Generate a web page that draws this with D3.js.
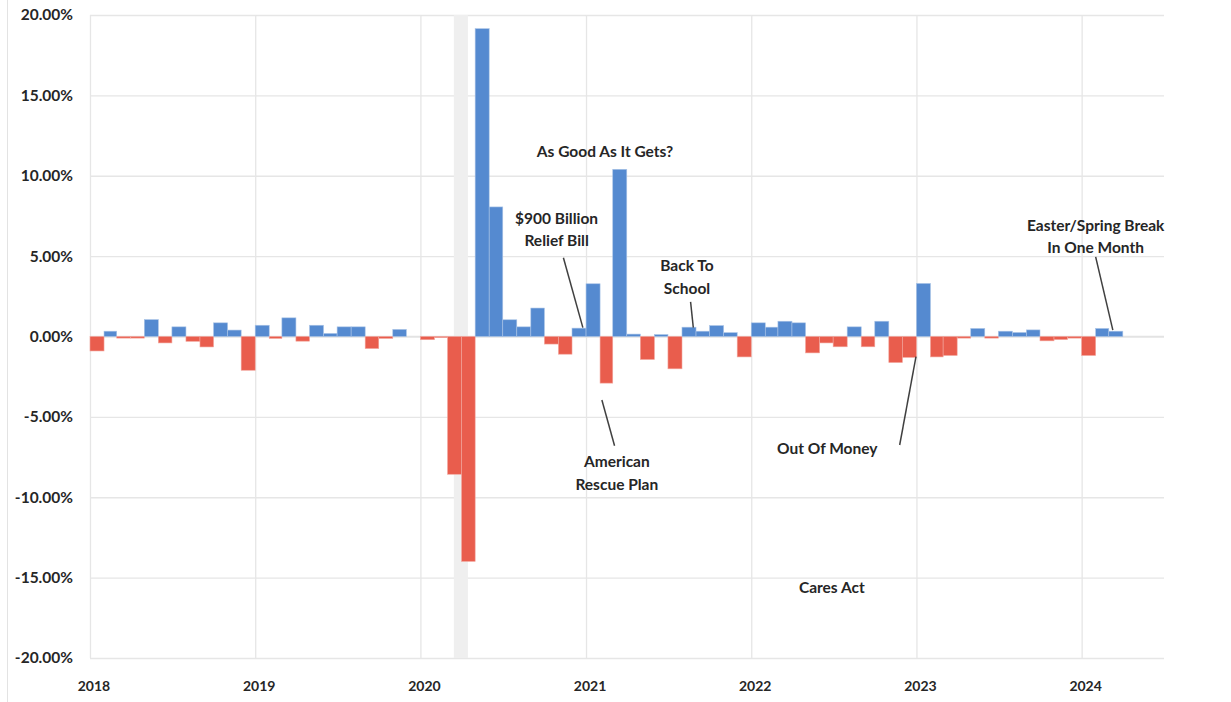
<!DOCTYPE html>
<html>
<head>
<meta charset="utf-8">
<script src="https://cdn.jsdelivr.net/npm/d3@7/dist/d3.min.js"></script>
<style>
  html, body { margin: 0; padding: 0; background: #fff; }
  svg { display: block; }
  text { font-family: "Lato", "Open Sans", sans-serif; font-weight: 700; fill: #262626; }
</style>
</head>
<body>
<svg id="chart" width="1231" height="702"></svg>
<script>
// Monthly % change, Jan 2018 – Mar 2024 (one value per month)
const startMonth = "2018-01";
const values2018 = [-0.90, 0.33, -0.10, -0.10, 1.05, -0.40, 0.60, -0.30, -0.65, 0.85, 0.40, -2.10];
const values2019 = [0.70, -0.12, 1.16, -0.29, 0.70, 0.19, 0.60, 0.60, -0.75, -0.12, 0.44, 0.00];
const values2020 = [-0.20, -0.07, -8.57, -13.99, 19.15, 8.06, 1.04, 0.60, 1.77, -0.47, -1.10, 0.52];
const values2021 = [3.28, -2.90, 10.40, 0.15, -1.43, 0.12, -2.01, 0.58, 0.33, 0.68, 0.24, -1.27];
const values2022 = [0.85, 0.58, 0.95, 0.85, -1.02, -0.40, -0.64, 0.60, -0.64, 0.95, -1.62, -1.30];
const values2023 = [3.30, -1.27, -1.18, -0.10, 0.50, -0.10, 0.33, 0.25, 0.41, -0.27, -0.19, -0.10];
const values2024 = [-1.18, 0.50, 0.33];

const yTicks = [20, 15, 10, 5, 0, -5, -10, -15, -20];
const xTickYears = [2018, 2019, 2020, 2021, 2022, 2023, 2024];
const recession = ["2020-03-15", "2020-04-15"];

// Annotations: text lines, anchor point (date, value) for label, leader line endpoints
const annotations = [
  { lines: ["As Good As It Gets?"], at: ["2021-02-12", 11.5], leader: null },
  { lines: ["$900 Billion", "Relief Bill"], at: ["2020-10-28", 7.35], leader: [["2020-11-12", 4.9], ["2020-12-25", 0.55]] },
  { lines: ["American", "Rescue Plan"], at: ["2021-03-10", -7.8], leader: [["2021-02-05", -3.95], ["2021-03-05", -6.8]] },
  { lines: ["Back To", "School"], at: ["2021-08-12", 4.4], leader: [["2021-08-20", 2.15], ["2021-08-26", 0.55]] },
  { lines: ["Out Of Money"], at: ["2022-06-18", -6.95], leader: [["2022-11-25", -6.75], ["2022-12-31", -1.25]] },
  { lines: ["Easter/Spring Break", "In One Month"], at: ["2024-02-01", 6.9], leader: [["2024-02-01", 4.95], ["2024-03-10", 0.4]] },
  { lines: ["Cares Act"], at: ["2022-06-28", -15.6], leader: null }
];

const allValues = [].concat(values2018, values2019, values2020, values2021, values2022, values2023, values2024);
const parseMonth = d3.timeParse("%Y-%m");
const parseDay = d3.timeParse("%Y-%m-%d");
const start = parseMonth(startMonth);
const data = allValues.map((v, i) => ({ date: d3.timeMonth.offset(start, i), value: v }));

const svg = d3.select("#chart");
const margin = { left: 90, right: 1231 - 1164, top: 15, bottom: 702 - 658 };
const W = 1231, H = 702;

const x = d3.scaleTime()
  .domain([parseDay("2018-01-01"), parseDay("2024-07-01")])
  .range([margin.left, W - margin.right]);
const y = d3.scaleLinear().domain([-20, 20]).range([H - margin.bottom, margin.top]);

// chart border line on left
svg.append("line").attr("x1", 7.5).attr("x2", 7.5).attr("y1", 0).attr("y2", H)
  .attr("stroke", "#e3e3e3").attr("stroke-width", 1);

// gridlines horizontal
svg.append("g").attr("transform", `translate(${margin.left},0)`)
  .call(d3.axisLeft(y).tickValues(yTicks).tickSize(-(W - margin.left - margin.right)).tickFormat(""))
  .call(g => g.select(".domain").remove())
  .call(g => g.selectAll("line").attr("stroke", "#e6e6e6").attr("stroke-width", 1.3));

// gridlines vertical
svg.append("g").attr("transform", `translate(0,${margin.top})`)
  .call(d3.axisBottom(x).tickValues(xTickYears.map(yr => new Date(yr, 0, 1))).tickSize(H - margin.top - margin.bottom).tickFormat(""))
  .call(g => g.select(".domain").remove())
  .call(g => g.selectAll("line").attr("stroke", "#e6e6e6").attr("stroke-width", 1.3));

// recession band
svg.append("rect")
  .attr("x", x(parseDay(recession[0])))
  .attr("width", x(parseDay(recession[1])) - x(parseDay(recession[0])))
  .attr("y", margin.top).attr("height", H - margin.top - margin.bottom)
  .attr("fill", "#efefef");

// zero line
svg.append("line").attr("x1", margin.left).attr("x2", W - margin.right)
  .attr("y1", y(0)).attr("y2", y(0)).attr("stroke", "#e3e3e3").attr("stroke-width", 1.3);

// bars
svg.append("g").selectAll("rect").data(data).join("rect")
  .attr("x", d => x(d.date))
  .attr("width", d => x(d3.timeMonth.offset(d.date, 1)) - x(d.date))
  .attr("y", d => y(Math.max(0, d.value)))
  .attr("height", d => Math.abs(y(d.value) - y(0)))
  .attr("fill", d => d.value >= 0 ? "#558ad0" : "#e95d4d")
  .attr("stroke", d => d.value >= 0 ? "#a9c3e6" : "#f2a69d")
  .attr("stroke-width", 0.6);

// y labels
svg.append("g").selectAll("text").data(yTicks).join("text")
  .attr("x", 73).attr("y", d => y(d)).attr("dy", "0.35em")
  .attr("text-anchor", "end").style("font-size", "15.5px")
  .text(d => d.toFixed(2) + "%");

// x labels
svg.append("g").selectAll("text").data(xTickYears).join("text")
  .attr("x", d => x(new Date(d, 0, 1)) + 4).attr("y", 686).attr("dy", "0.35em")
  .attr("text-anchor", "middle")
  .style("font-family", "'Liberation Sans Narrow', 'Lato', sans-serif")
  .style("font-size", "14px")
  .text(d => d);

// annotations
const ann = svg.append("g");
annotations.forEach(a => {
  if (a.leader) {
    ann.append("line")
      .attr("x1", x(parseDay(a.leader[0][0]))).attr("y1", y(a.leader[0][1]))
      .attr("x2", x(parseDay(a.leader[1][0]))).attr("y2", y(a.leader[1][1]))
      .attr("stroke", "#404040").attr("stroke-width", 1.5);
  }
  const t = ann.append("text")
    .attr("x", x(parseDay(a.at[0]))).attr("y", y(a.at[1]))
    .attr("text-anchor", "middle").style("font-size", "15.5px");
  a.lines.forEach((ln, i) => {
    t.append("tspan").attr("x", x(parseDay(a.at[0]))).attr("dy", i === 0 ? "0.35em" : "1.45em").text(ln);
  });
});
</script>
</body>
</html>
